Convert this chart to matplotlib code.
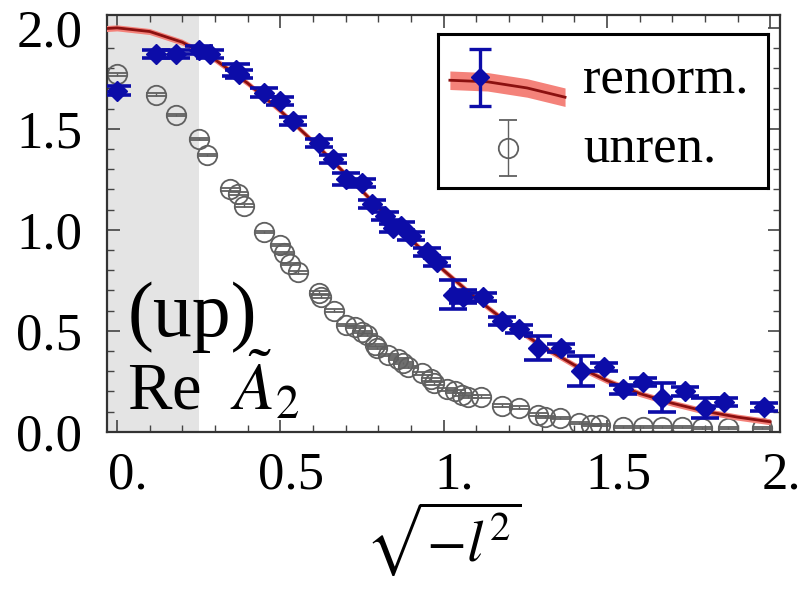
import matplotlib
matplotlib.use("Agg")
import matplotlib.pyplot as plt
import matplotlib.transforms as mtransforms
from matplotlib.ticker import MultipleLocator, FixedLocator, FixedFormatter

plt.rcParams['font.family'] = ['Liberation Serif', 'DejaVu Serif']
plt.rcParams['mathtext.fontset'] = 'stix'

# renormalized data (x, y, error)
ren_x = [0.00, 0.12, 0.18, 0.25, 0.285, 0.365, 0.375, 0.45, 0.50, 0.54, 0.62, 0.66, 0.70, 0.75,
         0.78, 0.82, 0.845, 0.87, 0.90, 0.95, 0.98, 1.03, 1.06, 1.12, 1.18, 1.23, 1.29, 1.36,
         1.42, 1.49, 1.55, 1.61, 1.67, 1.74, 1.80, 1.86, 1.98]
ren_y = [1.69, 1.87, 1.87, 1.89, 1.87, 1.79, 1.77, 1.68, 1.64, 1.54, 1.43, 1.35, 1.25, 1.23,
         1.13, 1.07, 1.01, 1.02, 0.97, 0.89, 0.84, 0.68, 0.67, 0.67, 0.55, 0.51, 0.415, 0.415,
         0.30, 0.32, 0.21, 0.245, 0.17, 0.20, 0.12, 0.15, 0.125]
ren_err = [0.02, 0.02, 0.02, 0.02, 0.02, 0.03, 0.02, 0.02, 0.02, 0.02, 0.02, 0.02, 0.03, 0.02,
           0.02, 0.02, 0.02, 0.02, 0.02, 0.02, 0.02, 0.07, 0.03, 0.02, 0.02, 0.02, 0.06, 0.02,
           0.075, 0.02, 0.02, 0.02, 0.07, 0.02, 0.05, 0.02, 0.02]

# unrenormalized data
unr_x = [0.00, 0.12, 0.18, 0.25, 0.275, 0.345, 0.37, 0.39, 0.45, 0.50, 0.51, 0.53, 0.555, 0.62,
         0.625, 0.665, 0.70, 0.73, 0.75, 0.765, 0.79, 0.795, 0.83, 0.86, 0.875, 0.89, 0.935,
         0.96, 0.97, 1.01, 1.035, 1.055, 1.075, 1.115, 1.18, 1.23, 1.29, 1.31, 1.355, 1.415,
         1.45, 1.48, 1.55, 1.61, 1.67, 1.73, 1.79, 1.87, 1.975]
unr_y = [1.77, 1.67, 1.57, 1.45, 1.37, 1.20, 1.18, 1.12, 0.99, 0.925, 0.885, 0.83, 0.79, 0.69,
         0.67, 0.60, 0.53, 0.52, 0.495, 0.48, 0.43, 0.415, 0.38, 0.36, 0.34, 0.32, 0.29,
         0.26, 0.24, 0.21, 0.20, 0.185, 0.175, 0.175, 0.13, 0.12, 0.085, 0.075, 0.07, 0.045,
         0.035, 0.035, 0.025, 0.025, 0.025, 0.025, 0.02, 0.02, 0.02]
unr_err = [0.006] * len(unr_x)

# fit curve
fit_x = [-0.05, 0.0, 0.1, 0.2, 0.3, 0.4, 0.5, 0.6, 0.7, 0.8, 0.9, 1.0, 1.1, 1.2, 1.3, 1.4,
         1.5, 1.6, 1.7, 1.8, 1.9, 2.0]
fit_y = [1.995, 2.0, 1.982, 1.929, 1.843, 1.726, 1.590, 1.438, 1.276, 1.111, 0.952, 0.80,
         0.66, 0.535, 0.425, 0.331, 0.254, 0.19, 0.142, 0.102, 0.073, 0.05]
fit_band = 0.015

shade_cut = 0.25
xticks = [0.0, 0.5, 1.0, 1.5, 2.0]
xticklabels = ['0.', '0.5', '1.', '1.5', '2.']
yticks = [0.0, 0.5, 1.0, 1.5, 2.0]
yticklabels = ['0.0', '0.5', '1.0', '1.5', '2.0']

BLUE = '#0c0ca8'
GRAY = '#606060'
DARKRED = '#8b1010'
BAND = '#f4827a'

fig = plt.figure(figsize=(8, 5.9), dpi=100)
ax = fig.add_axes([0.134, 0.268, 0.841, 0.707])
ax.set_xlim(-0.03, 2.03)
ax.set_ylim(0, 2.065)

ax.axvspan(-1, shade_cut, color='#e4e4e4', lw=0, zorder=0)

ax.errorbar(unr_x, unr_y, yerr=unr_err, fmt='o', ms=14, mfc='none', mec=GRAY, mew=1.3,
            ecolor=GRAY, elinewidth=1.0, capsize=7, capthick=1.0, zorder=2)

lo = [v - fit_band for v in fit_y]
hi = [v + fit_band for v in fit_y]
ax.fill_between(fit_x, lo, hi, color=BAND, lw=0, zorder=3)
ax.plot(fit_x, fit_y, color=DARKRED, lw=2.0, zorder=4)

ax.errorbar(ren_x, ren_y, yerr=ren_err, fmt='D', ms=10, mfc=BLUE, mec=BLUE,
            ecolor=BLUE, elinewidth=2.6, capsize=10, capthick=2.6, zorder=5)

# ticks
ax.xaxis.set_major_locator(FixedLocator(xticks))
ax.xaxis.set_major_formatter(FixedFormatter(xticklabels))
ax.yaxis.set_major_locator(FixedLocator(yticks))
ax.yaxis.set_major_formatter(FixedFormatter(yticklabels))
ax.xaxis.set_minor_locator(MultipleLocator(0.1))
ax.yaxis.set_minor_locator(MultipleLocator(0.1))
ax.tick_params(which='both', direction='in', top=True, right=True, color='#444444')
ax.tick_params(which='major', length=9, width=1.2, labelsize=38, pad=14)
ax.tick_params(which='minor', length=5, width=1.0)
ax.tick_params(axis='y', which='major', pad=18)
for lab in ax.get_xticklabels():
    lab.set_transform(lab.get_transform() + mtransforms.ScaledTranslation(0.11, 0, fig.dpi_scale_trans))
for sp in ax.spines.values():
    sp.set_linewidth(1.6)
    sp.set_color('#333333')

ax.set_xlabel(r'$\sqrt{-l^2}$', fontsize=42, labelpad=0)

ax.text(0.03, 0.36, '(up)', transform=ax.transAxes, fontsize=56, va='top', ha='left', zorder=6)
ax.text(0.03, 0.02, r'Re $\ \tilde{A}_2$', transform=ax.transAxes, fontsize=48, va='bottom',
        ha='left', zorder=6)

# legend drawn in an inset panel
lg = fig.add_axes([0.5475, 0.681, 0.4125, 0.2614])
lg.set_xlim(0, 1)
lg.set_ylim(0, 1)
lg.set_xticks([])
lg.set_yticks([])
for sp in lg.spines.values():
    sp.set_linewidth(2.2)
    sp.set_color('black')
lg_bx = [0.036, 0.15, 0.27, 0.385]
lg_by = [0.70, 0.69, 0.65, 0.59]
lg.fill_between(lg_bx, [v - 0.06 for v in lg_by], [v + 0.06 for v in lg_by], color=BAND, lw=0)
lg.plot(lg_bx, lg_by, color=DARKRED, lw=2.0)
lg.errorbar([0.127], [0.72], yerr=[0.185], fmt='D', ms=9, color=BLUE, elinewidth=2.4,
            capsize=8, capthick=2.4)
lg.errorbar([0.212], [0.26], yerr=[0.18], fmt='o', ms=14, mfc='none', mec=GRAY, mew=1.3,
            ecolor=GRAY, elinewidth=1.0, capsize=6.5, capthick=1.0)
lg.text(0.44, 0.70, 'renorm.', fontsize=38, va='center', ha='left')
lg.text(0.44, 0.25, 'unren.', fontsize=38, va='center', ha='left')

fig.savefig('out.png', dpi=100)
